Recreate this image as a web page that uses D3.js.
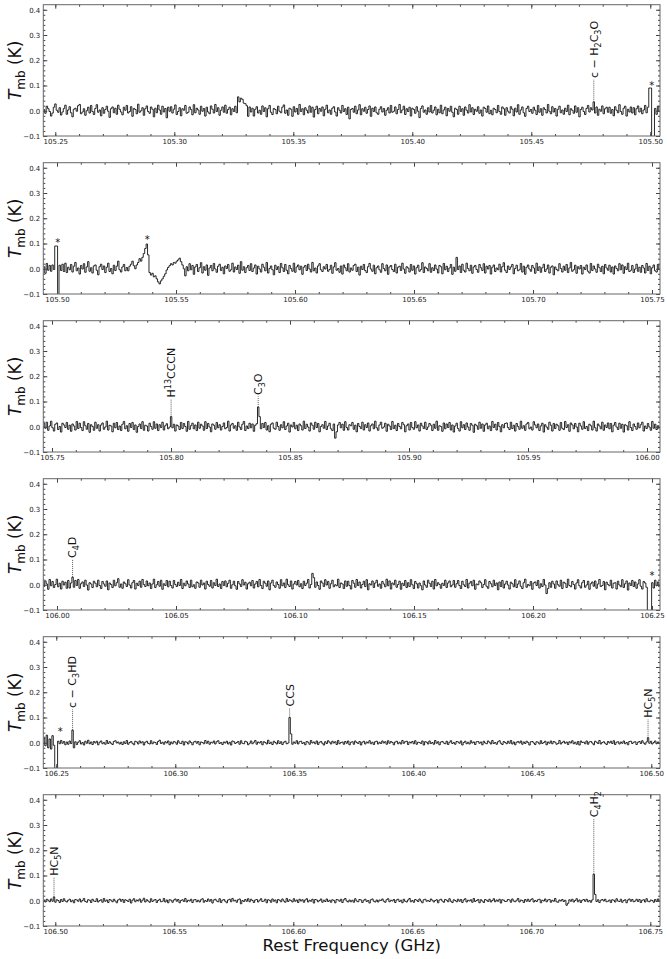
<!DOCTYPE html>
<html>
<head>
<meta charset="utf-8">
<script src="https://cdn.jsdelivr.net/npm/d3@7"></script>
<style>
  body { margin: 0; background: #fff; }
  text { font-family: "DejaVu Sans", sans-serif; }
</style>
</head>
<body>
<div id="plot"></div>
<script>
// frequency range of each panel (GHz)
var panelLo = [105.24496, 105.49424, 105.74634, 105.99424, 106.24454, 106.49496]
var panelHi = [105.50408, 105.75336, 106.00546, 106.25336, 106.50366, 106.75408]
var tickStart = [105.25, 105.50, 105.75, 106.00, 106.25, 106.50]

// spectrum channels
var chanStart = [105.24526, 105.49454, 105.74664, 105.99454, 106.24484, 106.49526]
var chanWidth = 0.0006

var yDomain = [-0.1, 0.42]
var yTicks = [-0.1, 0.0, 0.1, 0.2, 0.3, 0.4]

// Tmb values in mK, one per channel (432 per panel)
var tmb1 = [
  5,-10,18,8,-3,-21,-9,14,27,2,-6,12,-17,-5,9,22,-14,3,
  16,-8,-24,6,10,-2,20,25,-12,-5,8,-18,0,14,-9,21,-3,-15,
  9,24,-6,3,-20,12,-10,5,18,-2,-26,8,15,-8,10,-14,22,6,
  -5,-16,14,2,21,-9,-3,16,-22,9,5,-12,26,-6,0,12,-18,8,
  19,-3,-10,15,6,-24,10,-8,22,3,-14,18,-5,9,-28,14,-2,16,
  -9,6,23,-15,-3,12,-20,8,2,21,-10,-6,15,5,-16,24,-8,10,
  3,-14,18,-2,9,-21,14,-5,-12,19,6,-9,25,-3,12,-18,2,15,
  -6,22,-10,5,14,-16,8,-3,18,-8,55,35,50,45,30,28,20,-22,
  15,-5,10,-21,6,16,-9,2,-14,19,-3,12,-24,8,21,-6,-15,9,
  5,-12,18,-2,-8,14,23,-10,3,-18,10,6,-22,16,-5,9,-14,25,
  -3,8,-16,12,2,-9,19,-6,14,-25,5,18,-12,9,-2,15,-20,6,
  22,-8,3,-14,10,16,-5,-21,12,2,-9,21,-3,8,-15,14,-32,5,
  9,-6,18,-12,3,24,-16,8,-2,14,-10,5,19,-22,10,-3,15,-8,
  -14,6,16,-5,9,-18,2,12,-9,21,-6,-2,15,-12,5,25,-8,3,
  18,-15,8,-3,14,-21,10,5,-10,16,-2,-27,9,19,-6,3,-14,12,
  -5,21,-9,2,15,-16,6,-8,22,-12,3,14,-20,9,-2,18,-6,-24,
  10,5,-14,18,-3,8,-18,15,2,-9,24,-5,12,-15,6,-2,16,-10,
  3,-21,14,9,-6,19,-12,2,-16,10,5,-8,21,-3,-14,15,8,-18,
  12,-2,-9,16,6,-20,10,-5,24,-14,3,15,-8,-22,9,18,-3,5,
  -10,14,2,-15,21,-6,8,-18,12,5,-9,25,-2,-12,16,-5,9,-21,
  6,18,-8,3,-14,10,-3,22,-16,8,2,-10,19,-6,12,-24,5,14,
  -3,-15,9,21,-5,12,3,35,-9,15,-18,6,-2,19,-12,8,14,-6,
  14,-10,5,-20,16,2,-8,24,-3,-14,10,18,-21,6,-5,15,-9,12,
  -16,8,19,-5,10,-12,3,21,-8,14,90,90,-120,-120,9,-14,18,-3
]
var tmb2 = [
  8,-18,21,-6,13,-10,15,-3,90,90,-120,14,-7,18,-11,22,-15,6,
  -4,17,-13,10,25,-8,3,-21,13,-1,20,-14,7,28,-10,4,-17,11,
  15,-6,-24,8,18,-3,11,-15,6,22,-11,1,-20,14,-7,10,30,-4,
  -13,7,17,-8,5,-8,10,18,30,12,0,15,25,40,30,45,60,80,
  98,55,-15,-25,-18,-32,-28,-40,-52,-60,-48,-40,-30,-20,-5,5,12,20,
  15,25,22,30,35,42,28,15,0,-28,8,-8,20,-4,13,-22,7,17,
  -11,4,24,-17,8,-6,15,-26,3,13,-8,21,-1,-14,10,18,-7,6,
  -20,11,1,17,-10,-4,22,-13,7,-3,14,-18,28,-6,8,-15,4,13,
  -7,20,-11,3,15,-21,10,-1,-13,18,6,-8,25,-17,1,11,-4,-24,
  14,-3,8,-15,21,4,-11,17,-6,-20,13,1,-10,22,-14,7,15,-4,
  10,-22,6,13,-7,18,-1,-13,25,-8,3,-17,11,20,-4,-11,8,-1,
  17,-10,-3,14,-18,7,24,-6,1,-14,11,-21,15,4,-8,20,-13,3,
  -6,13,18,-11,6,-25,10,-3,17,-7,-15,8,21,-1,-10,14,-20,4,
  11,-4,-14,20,1,-8,15,-22,7,13,-3,-11,18,-17,6,10,-7,22,
  -1,-18,8,3,-13,17,-6,11,-21,4,14,-10,-3,24,-15,7,1,-8,
  20,-14,4,-7,15,-1,-17,13,8,-20,21,-4,10,-11,3,17,-22,6,
  -10,45,-3,11,-15,18,-6,-13,22,1,-8,14,-18,7,13,-3,-14,17,
  4,-7,20,-17,10,-1,13,-21,6,15,-11,3,-4,18,-13,8,24,-6,
  -15,11,-3,7,17,-20,1,14,-8,-4,21,-13,10,-22,6,15,-1,-10,
  13,3,-18,22,-7,8,-14,4,18,-11,-1,15,-17,6,11,-24,7,-3,
  -8,20,1,-13,10,-6,17,-15,3,25,-10,-4,14,-18,8,-1,13,-21,
  6,-3,15,-10,-17,21,-7,11,-1,-14,18,4,-11,10,-20,17,3,-6,
  14,-13,7,-21,11,1,-8,20,-4,15,-18,8,-3,22,-11,-6,13,-15,
  -1,18,-10,6,-14,13,3,-17,21,-7,10,-20,4,15,-8,-13,17,-4
]
var tmb3 = [
  13,-6,18,-14,3,22,-4,-17,10,15,-11,1,-21,14,7,-3,17,-10,
  6,-18,11,3,-13,21,-7,14,-3,-15,20,4,-10,13,-22,8,1,-14,
  18,-6,8,-17,7,15,-10,-1,22,-13,6,3,-20,14,-4,17,-11,3,
  -15,10,21,-8,4,-18,13,-3,17,-11,7,-22,1,11,-7,20,-14,6,
  3,-17,14,1,-10,20,-6,11,-15,8,-3,18,-13,4,12,-8,-1,40,
  -4,10,-17,7,3,-11,17,-7,13,1,-18,21,-10,4,14,-8,7,-15,
  18,-6,10,3,-14,20,-7,13,-1,-20,11,6,-10,17,-4,8,-13,1,
  15,-8,-3,22,-17,7,13,-6,4,-14,18,-1,-11,10,21,-15,3,-7,
  14,-4,11,-18,6,12,78,40,-8,13,-3,17,-13,4,-20,10,15,-6,
  -10,18,1,-14,8,-4,20,-11,3,14,-21,7,-1,17,-8,6,-15,11,
  4,-13,22,-7,10,-1,-17,15,6,-10,18,-3,13,-20,1,8,-6,21,
  -11,3,14,-8,-15,11,-45,-20,7,17,-4,10,-14,20,-3,-13,8,4,
  17,-10,6,-20,13,1,-7,18,-13,8,-3,15,-17,4,11,-8,22,-4,
  -14,7,18,-6,-1,14,-18,10,3,-11,21,-7,6,-15,13,1,-8,17,
  8,-20,4,11,-13,17,-3,-10,20,-4,7,-17,14,3,-7,18,-11,-1,
  13,6,-15,10,-6,22,-14,4,1,-18,15,-8,11,-3,17,-13,7,-21,
  3,14,-7,-17,20,-4,8,-11,15,-1,-14,13,6,-22,10,4,-10,18,
  -6,11,-18,7,14,-8,3,-15,21,-3,10,-13,17,1,-20,8,-4,13,
  15,-3,-11,18,-7,6,-17,13,1,-10,22,-6,4,-14,11,17,-8,-1,
  -13,20,7,-4,11,-15,3,14,-21,8,-1,-10,18,6,-17,13,-7,10,
  4,-14,17,-6,-11,21,-3,8,-18,15,7,-8,13,-1,-20,14,3,-10,
  20,-7,1,-15,10,4,-13,22,-4,-17,11,3,-8,18,-14,7,-3,15,
  -8,13,-20,6,17,-1,-11,14,-6,10,-21,8,4,-13,20,-3,-15,11,
  1,-10,15,-4,8,18,-17,3,-7,13,-1,-14,21,-6,10,-11,4,-8
]
var tmb4 = [
  -7,15,3,-18,21,-4,13,-11,1,22,-8,6,-17,14,-1,10,-14,17,
  -13,7,30,-10,17,-3,21,-14,4,11,-7,18,-1,-21,8,3,-11,14,
  6,-8,18,-3,-15,13,3,-6,15,-20,7,1,-11,18,-4,8,24,-10,
  3,-14,11,4,-7,20,-1,-13,8,17,-17,6,-3,14,-10,21,1,-7,
  15,-4,7,-15,3,22,-11,0,13,-6,18,-18,4,-3,17,-8,14,-3,
  -13,17,1,-7,10,-3,21,-15,6,-4,15,3,-11,18,-8,0,-14,11,
  7,-10,18,-1,7,-17,14,1,-6,17,-13,8,-3,22,-7,3,-15,13,
  -3,15,-8,6,18,-14,0,14,-4,-18,13,3,-7,20,-1,10,-17,4,
  10,-4,17,-13,3,13,-8,21,-3,-15,14,6,-6,15,-20,7,18,-3,
  -10,11,1,-14,20,-4,7,-11,22,0,-7,15,-17,3,13,-1,17,-8,
  4,-15,14,-3,6,21,-13,1,45,28,-10,11,-3,-18,15,7,-7,20,
  -1,13,-14,4,18,-8,0,-4,22,-11,7,3,-15,15,-6,14,-3,-17,
  17,6,-10,21,-3,11,-13,1,14,-7,20,-20,4,-1,15,-11,7,18,
  -6,3,-14,13,3,-8,22,-4,15,-17,7,0,18,-10,1,14,-18,6,
  -3,17,-11,8,-7,20,0,-15,13,4,-13,7,-4,-20,15,-1,-10,18,
  6,-7,14,-17,21,-4,8,1,-14,6,-3,18,-11,7,15,-8,-1,17,
  -10,4,17,-3,-15,14,0,-7,21,-13,6,13,-4,18,-18,3,0,15,
  8,-11,1,20,-6,-14,13,4,-8,18,-3,7,-20,11,-7,17,-13,3,
  14,-1,-17,10,4,-8,20,-11,3,15,-6,-15,8,22,-10,1,-4,13,
  -18,7,11,-3,17,-13,4,-7,21,-1,-35,-15,8,-10,14,3,-14,15,
  0,-6,18,-15,10,6,-11,22,-3,-8,13,1,-17,7,20,-4,-13,8,
  17,-10,-1,14,-18,4,11,-6,15,-14,3,21,-7,-3,13,-20,10,1,
  -4,18,-13,6,8,-17,14,-1,-8,20,-11,4,15,-21,7,-3,17,-7,
  11,-14,3,20,-6,-17,13,7,-10,-120,-120,-120,8,-13,18,-4,11,-8
]
var tmb5 = [
  22,-12,30,-20,15,-25,28,-10,-120,-120,6,-4,9,-2,5,-8,3,-6,
  7,-3,50,-20,4,-7,2,8,-5,1,-9,6,-2,10,-4,3,-7,5,
  -1,6,-8,2,7,-4,1,-6,9,-3,4,-2,-7,5,8,-1,3,-5,
  2,-7,4,-3,9,-6,1,5,-2,-8,6,3,-5,7,-1,4,-9,2,
  6,-2,-5,8,-4,3,1,-7,5,10,-3,2,-6,4,-1,7,-8,3,
  -4,5,2,-6,8,-1,-3,6,-9,4,2,-5,7,1,-8,3,6,-2,
  5,-8,3,1,-4,9,-2,6,-6,2,-1,7,-5,4,8,-3,1,-7,
  3,-1,6,-5,2,-9,7,4,-3,1,5,-6,8,-2,-4,6,3,-8,
  -2,7,-4,2,9,-6,3,-1,5,-8,4,1,-5,10,-3,2,-7,6,
  1,-5,8,-3,4,-7,2,6,-4,-1,100,35,-6,3,-2,8,-5,4,
  6,-3,1,-8,5,2,-6,9,-1,3,-4,7,-7,2,5,-2,-9,4,
  -3,8,2,-5,6,-1,4,-7,9,-4,1,3,-6,5,-2,7,-8,2,
  4,-6,7,1,-3,5,-9,2,6,-5,3,-1,8,-4,2,-7,4,6,
  -5,2,-3,7,-1,4,-6,8,-2,5,1,-8,3,6,-4,2,-5,9,
  -2,4,6,-7,3,-1,5,-4,8,-6,2,1,-3,7,-9,4,2,-5,
  7,-3,1,-6,9,-2,4,-8,3,5,-1,-4,6,-7,2,8,-3,1,
  -6,5,3,-2,7,-9,1,6,-4,2,-5,8,-1,3,-7,4,5,-2,
  3,-8,6,-1,-4,7,2,-5,9,-3,1,-6,4,8,-2,-7,5,1,
  -4,6,-2,9,-5,3,-8,2,5,-1,7,-6,3,-3,6,1,-9,4,
  5,-1,-7,4,2,-5,8,-3,1,6,-8,3,-2,7,-4,5,2,-6,
  -3,9,-5,1,6,-2,3,-7,4,-1,8,-4,2,-6,5,-9,7,1,
  2,-4,7,-6,3,5,-1,-8,6,2,-3,9,-5,1,4,-2,-7,5,
  -1,6,-3,8,-7,2,4,-5,3,-2,7,-4,1,-8,5,6,-3,2,
  4,-7,2,5,-3,8,-1,-6,3,20,-2,6,-5,1,7,-4,3,-2
]
var tmb6 = [
  3,-5,6,2,-4,7,-2,15,-6,4,1,-7,5,-3,8,-1,-5,2,
  6,-4,2,-8,5,3,-2,7,-5,1,9,-3,-6,4,2,-7,6,-1,
  -3,8,-5,1,4,-6,9,-2,3,-7,5,2,-4,6,-1,-8,3,7,
  -2,5,-7,4,1,-3,6,-9,2,8,-4,3,-1,7,-6,2,10,-5,
  4,-1,-6,8,-3,2,5,-7,1,6,-4,-2,9,-5,3,-8,4,2,
  -6,3,7,-2,5,-8,1,4,-3,9,-5,2,-1,6,-7,3,5,-4,
  2,-5,4,8,-6,1,-3,7,-2,5,-9,3,6,-1,-4,8,-7,2,
  5,-2,-8,3,6,-4,9,-1,2,-6,4,7,-12,1,-3,5,-2,8,
  -4,6,1,-7,3,5,-5,2,8,-3,-1,6,-8,4,2,-6,7,-2,
  3,-8,5,2,-4,7,-1,-6,9,-3,4,1,-5,8,-2,3,-7,6,
  -1,4,-6,3,8,-5,2,-2,6,-9,5,3,-4,1,7,-6,2,-3,
  7,-3,2,-6,4,1,-8,5,3,-2,6,-7,4,9,-1,-5,3,-4,
  2,-6,8,-1,-4,5,3,-7,2,6,-3,1,-9,4,7,-2,-5,3,
  -5,3,1,7,-2,-6,4,8,-4,2,-1,5,-7,3,6,-3,2,-8,
  6,-2,-5,3,9,-4,1,-6,5,2,-3,7,-1,-8,4,6,-2,1,
  -3,7,2,-5,1,4,-8,3,6,-1,-6,5,2,-4,8,-2,-7,4,
  1,-4,6,-2,5,-7,3,8,-5,2,-1,4,-6,9,-3,1,5,-8,
  4,-1,-7,5,2,-3,6,-5,1,8,-4,3,-2,6,-9,4,2,-3,
  -2,5,3,-6,7,-1,-4,2,9,-5,3,1,-7,5,-2,6,-3,4,
  8,-5,1,-3,4,6,-8,2,-1,7,-4,3,5,-6,2,-2,9,-4,
  -6,3,-1,5,-3,2,-18,-10,4,-2,6,-5,1,8,-4,3,-7,2,
  5,-2,6,-4,1,-6,3,105,25,-3,4,-7,2,5,-1,6,-4,-2,
  3,-7,4,2,-5,8,-1,-3,6,-6,1,4,-8,3,7,-2,5,-4,
  -1,6,-3,5,-7,2,4,-5,8,-2,-4,3,1,-6,5,-3,7,-1
]
var spectra = [tmb1, tmb2, tmb3, tmb4, tmb5, tmb6]

// line identifications: _n subscript, ^n superscript
var lineNames = ["c − H_2C_3O", "H^13CCCN", "C_3O", "C_4D", "c − C_3HD", "CCS", "HC_5N", "HC_5N", "C_4H_2"]
var linePanel = [0, 2, 2, 3, 4, 4, 4, 5, 5]
var lineFreq = [105.47626, 105.80004, 105.83664, 106.00654, 106.25684, 106.34804, 106.49864, 106.49946, 106.72626]
var lineBase = [0.036, 0.04, 0.078, 0.031, 0.05, 0.1, 0.02, 0.016, 0.105]
var lineTop = [0.124, 0.11, 0.12, 0.10, 0.132, 0.138, 0.093, 0.093, 0.325]

// artefact markers
var starPanel = [0, 1, 1, 3, 4]
var starFreq = [105.5006, 105.5003, 105.5379, 106.2500, 106.2517]
var starK = [0.11, 0.113, 0.125, 0.046, 0.053]

// layout
var svgWidth = 667
var svgHeight = 959
var left = 43.3
var right = 660
var top0 = 4.7
var panelH = 131.3
var panelStep = 158

var svg = d3.select("#plot")
  .append("svg")
  .attr("width", svgWidth)
  .attr("height", svgHeight)

var frameColor = "#666"
var tickColor = "#444"

spectra.forEach(function (vals, p) {
  var top = top0 + p * panelStep
  var x = d3.scaleLinear().domain([panelLo[p], panelHi[p]]).range([left, right])
  var y = d3.scaleLinear().domain(yDomain).range([top + panelH, top])

  var g = svg.append("g")

  g.append("clipPath").attr("id", "clip" + p)
    .append("rect")
    .attr("x", left).attr("y", top)
    .attr("width", right - left).attr("height", panelH)

  // spectrum (steps centred on channels)
  var pts = vals.map(function (v, i) {
    return { f: chanStart[p] + i * chanWidth, t: v / 1000 }
  })
  var line = d3.line()
    .x(d => x(d.f))
    .y(d => y(d.t))
    .curve(d3.curveStep)
  g.append("path")
    .datum(pts)
    .attr("clip-path", "url(#clip" + p + ")")
    .attr("fill", "none")
    .attr("stroke", "#111")
    .attr("stroke-width", 0.9)
    .attr("d", line)

  // ticks, all pointing inwards
  var xMajor = d3.range(0, 6).map(k => tickStart[p] + k * 0.05)
  var xMinor = d3.range(-1, 27).map(k => tickStart[p] + k * 0.01)
    .filter(v => v > panelLo[p] && v < panelHi[p])
  var yMinor = d3.range(-5, 22).map(k => k * 0.02).filter(v => v < 0.42)

  function styleAxis(sel) {
    sel.attr("color", tickColor)
    sel.select(".domain").remove()
    sel.selectAll("text")
      .attr("font-size", 7)
      .attr("font-family", "DejaVu Sans, sans-serif")
      .attr("fill", "#222")
  }

  g.append("g").attr("transform", `translate(0,${top + panelH})`)
    .call(d3.axisBottom(x).tickValues(xMajor).tickFormat(d3.format(".2f")).tickSize(-4).tickPadding(3))
    .call(styleAxis)
  g.append("g").attr("transform", `translate(0,${top + panelH})`)
    .call(d3.axisBottom(x).tickValues(xMinor).tickFormat("").tickSize(-2))
    .call(styleAxis)
  g.append("g").attr("transform", `translate(0,${top})`)
    .call(d3.axisTop(x).tickValues(xMajor).tickFormat("").tickSize(-4))
    .call(styleAxis)
  g.append("g").attr("transform", `translate(0,${top})`)
    .call(d3.axisTop(x).tickValues(xMinor).tickFormat("").tickSize(-2))
    .call(styleAxis)

  g.append("g").attr("transform", `translate(${left},0)`)
    .call(d3.axisLeft(y).tickValues(yTicks).tickFormat(d3.format(".1f")).tickSize(-4).tickPadding(3))
    .call(styleAxis)
  g.append("g").attr("transform", `translate(${left},0)`)
    .call(d3.axisLeft(y).tickValues(yMinor).tickFormat("").tickSize(-2))
    .call(styleAxis)
  g.append("g").attr("transform", `translate(${right},0)`)
    .call(d3.axisRight(y).tickValues(yTicks).tickFormat("").tickSize(-4))
    .call(styleAxis)
  g.append("g").attr("transform", `translate(${right},0)`)
    .call(d3.axisRight(y).tickValues(yMinor).tickFormat("").tickSize(-2))
    .call(styleAxis)

  // frame
  g.append("rect")
    .attr("x", left).attr("y", top)
    .attr("width", right - left).attr("height", panelH)
    .attr("fill", "none")
    .attr("stroke", frameColor)
    .attr("stroke-width", 1)

  // y label
  var yl = g.append("text")
    .attr("transform", `translate(20.5,${top + panelH / 2}) rotate(-90)`)
    .attr("text-anchor", "middle")
    .attr("font-size", 17)
    .attr("fill", "#111")
  yl.append("tspan").attr("font-style", "italic").text("T")
  yl.append("tspan").attr("font-size", 12).attr("dy", 4).text("mb")
  yl.append("tspan").attr("dy", -4).text(" (K)")

  // line labels
  linePanel.forEach(function (lp, j) {
    if (lp !== p) return
    var lx = x(lineFreq[j])
    g.append("line")
      .attr("x1", lx).attr("x2", lx)
      .attr("y1", y(lineBase[j])).attr("y2", y(lineTop[j]))
      .attr("stroke", "#333")
      .attr("stroke-width", 0.8)
      .attr("stroke-dasharray", "1,1")
    var t = g.append("text")
      .attr("transform", `translate(${lx + 3.9},${y(lineTop[j]) - 1.5}) rotate(-90)`)
      .attr("font-size", 11)
      .attr("fill", "#111")
    var parts = lineNames[j].split(/([_^]\d+)/).filter(s => s.length)
    var shift = 0
    parts.forEach(function (s) {
      var ts = t.append("tspan")
      var target = 0
      if (s[0] === "_") { target = 3; s = s.slice(1); ts.attr("font-size", 8) }
      else if (s[0] === "^") { target = -4.5; s = s.slice(1); ts.attr("font-size", 8) }
      ts.attr("dy", target - shift).text(s)
      shift = target
    })
  })

  // stars
  starPanel.forEach(function (sp, j) {
    if (sp !== p) return
    g.append("text")
      .attr("x", x(starFreq[j]))
      .attr("y", y(starK[j]) + 6)
      .attr("text-anchor", "middle")
      .attr("font-size", 10)
      .attr("fill", "#111")
      .text("*")
  })
})

svg.append("text")
  .attr("x", (left + right) / 2)
  .attr("y", 951)
  .attr("text-anchor", "middle")
  .attr("font-size", 16.5)
  .attr("fill", "#111")
  .text("Rest Frequency (GHz)")
</script>
</body>
</html>
